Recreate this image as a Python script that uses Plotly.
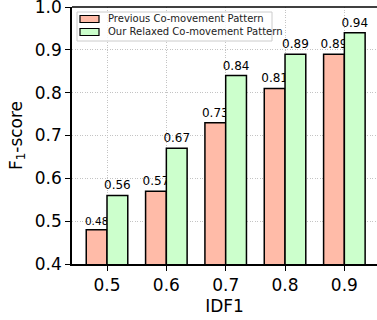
import plotly.graph_objects as go

categories = ["0.5", "0.6", "0.7", "0.8", "0.9"]
previous = [0.48, 0.57, 0.73, 0.81, 0.89]
ours = [0.56, 0.67, 0.84, 0.89, 0.94]
series_names = ["Previous Co-movement Pattern", "Our Relaxed Co-movement Pattern"]
series_colors = ["#ffbba8", "#ccffcc"]
y_ticks = [0.4, 0.5, 0.6, 0.7, 0.8, 0.9, 1.0]

FONT = "DejaVu Sans"
W, H = 377, 320
L, R, T, B = 72, 0, 7, 56


def px_x(p):
    return (p - L) / (W - L - R)


def px_y(p):
    return (H - B - p) / (H - T - B)


fig = go.Figure()
for vals, name, col, sizes in [
    (previous, series_names[0], series_colors[0], [10.5] + [12] * 4),
    (ours, series_names[1], series_colors[1], 12),
]:
    fig.add_trace(go.Bar(
        x=categories, y=vals, name=name,
        marker=dict(color=col, line=dict(color="black", width=1.5)),
        text=[f"{v:.2f}" for v in vals], textposition="outside",
        textfont=dict(family=FONT, size=sizes, color="black"),
        constraintext="none", cliponaxis=False, showlegend=False,
    ))

# top spine
shapes = [dict(type="line", xref="paper", yref="paper", x0=0, x1=1, y0=1, y1=1,
               line=dict(color="black", width=1.5), layer="above")]
# legend drawn manually (box, patches, labels)
shapes.append(dict(type="rect", xref="paper", yref="paper",
                   x0=px_x(77), x1=px_x(272), y0=px_y(12), y1=px_y(41),
                   line=dict(color="#cccccc", width=1), fillcolor="rgba(255,255,255,0.8)", layer="above"))
annotations = []
for i, (name, col) in enumerate(zip(series_names, series_colors)):
    cy = 19 + i * 13
    shapes.append(dict(type="rect", xref="paper", yref="paper",
                       x0=px_x(80), x1=px_x(99), y0=px_y(cy - 3.5), y1=px_y(cy + 3.5),
                       line=dict(color="black", width=1.2), fillcolor=col, layer="above"))
    annotations.append(dict(text=name, xref="paper", yref="paper", x=px_x(106), y=px_y(cy),
                            xanchor="left", yanchor="middle", showarrow=False,
                            font=dict(family=FONT, size=10, color="#222222")))

grid = dict(showgrid=True, gridcolor="#c4c4c4", griddash="1px,1.5px", gridwidth=1)

fig.update_layout(
    width=W, height=H,
    margin=dict(l=L, r=R, t=T, b=B, autoexpand=False),
    paper_bgcolor="white", plot_bgcolor="white",
    font=dict(family=FONT, color="black"),
    barmode="group", bargap=0.3, bargroupgap=0,
    showlegend=False,
    shapes=shapes, annotations=annotations,
    xaxis=dict(
        type="category", range=[-0.59, 4.55], automargin=False,
        title=dict(text="IDF1", font=dict(size=17), standoff=6),
        tickfont=dict(size=17), ticklabeloverflow="allow",
        showline=True, linecolor="black", linewidth=1.5, mirror=False,
        ticks="outside", ticklen=5, tickwidth=1.2, tickcolor="black",
        **grid,
    ),
    yaxis=dict(
        range=[0.4, 1.0001], tickvals=y_ticks, tickformat=".1f", automargin=False,
        title=dict(text="F<sub>1</sub>-score", font=dict(size=17), standoff=8),
        tickfont=dict(size=17), ticklabeloverflow="allow",
        showline=True, linecolor="black", linewidth=1.5, mirror=False,
        ticks="outside", ticklen=5, tickwidth=1.2, tickcolor="black",
        zeroline=False,
        **grid,
    ),
)

fig.write_html("out.html", config={"displayModeBar": False},
               post_script="document.body.style.margin='0';document.body.style.padding='0';document.documentElement.style.overflow='hidden';")
